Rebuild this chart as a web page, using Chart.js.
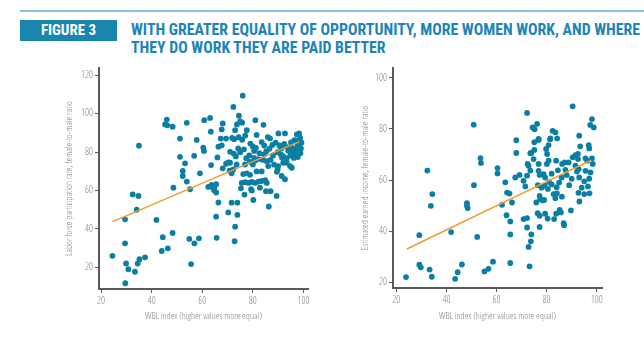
<!DOCTYPE html>
<html>
<head>
<meta charset="utf-8">
<script src="https://cdn.jsdelivr.net/npm/chart.js@4.4.1/dist/chart.umd.min.js"></script>
<style>
  html, body { margin: 0; padding: 0; background: #ffffff; }
  body { width: 644px; height: 340px; position: relative; overflow: hidden;
         font-family: "Roboto Condensed", "DejaVu Sans Condensed", sans-serif; }
  .rule { position: absolute; left: 20px; right: 0; top: 10px; height: 2px; background: #8fc3db; }
  .fig { position: absolute; left: 20px; top: 20px; width: 97px; height: 21px; background: #1a86ad;
         color: #fff; font-weight: bold; font-size: 15px; line-height: 21px; text-align: center; }
  .title { position: absolute; left: 131px; top: 21px; color: #1d84b6; font-weight: bold;
           font-size: 15.8px; line-height: 17.5px; white-space: nowrap; }
  .panel { position: absolute; top: 60px; height: 280px; }
</style>
</head>
<body>
<div class="rule"></div>
<div class="fig">FIGURE 3</div>
<div class="title">WITH GREATER EQUALITY OF OPPORTUNITY, MORE WOMEN WORK, AND WHERE<br>THEY DO WORK THEY ARE PAID BETTER</div>
<div class="panel" style="left:0; width:320px;"><canvas id="labor"></canvas></div>
<div class="panel" style="left:320px; width:324px;"><canvas id="income"></canvas></div>
<script>
// Country observations: [WBL index, female-to-male labor force participation ratio]
const laborPoints = [
  [24.5,26],[29.5,45],[29.5,32.5],[29.9,22],[30.8,19],[29.6,11.7],[32.5,58],[34.8,57.2],[34.1,50],[33.4,17.7],
  [34.5,22],[35.2,24.2],[37.4,25.2],[35,83.4],[41.9,44.7],[44.4,35.7],[44,28.5],[46.4,29.9],[48.3,37.9],[54.9,34.8],
  [55.6,21.7],[56.9,32.5],[58.7,35.1],
  [46,97],[45.3,94.5],[46.2,94],[48.3,93.3],[53.9,95.3],[51.2,87.1],[51.2,77.6],[53.2,74.2],[52.3,70.2],[52.3,67.6],
  [53.9,64.7],[48.6,61.5],[55.2,60.7],[56.8,78.1],[57.8,86.4],[59.1,69],[60.8,96.7],[63.1,97.9],[63.4,90.7],[60.4,82.4],
  [60.7,80.7],[63.5,73.3],[66,77.3],[68.1,71.6],[70.3,74.7],
  [62.4,61.9],[63.7,62.9],[64.8,61.9],[65.5,63.3],[64.7,60.2],[65.5,59],[64.4,61.2],[66.4,53.8],[65.5,46.4],[65.7,35.4],
  [66.4,82.9],[67.7,83.6],[68.1,95],[67.7,91.9],[67.3,87.1],[69.4,87.1],[71,80.2],
  [70.3,48.6],[71.6,53.7],[73.9,53.7],[73.9,47.3],[73,41.2],[72.8,33.6],[76.7,57.9],[80.2,55.1],[79.6,60],[85.2,59.7],
  [87,59.7],[86.3,51.7],[89.4,57.2],
  [72.3,103.6],[76,109.5],[74.5,99],[75,96],[75.8,95.4],[73.7,94.5],[81,96.7],[84.2,94.3],[73,91.5],[77.6,91.5],
  [90.1,89.8],[92.7,89.8],[97.4,89.3],[98.3,89.8],[81.5,89],[83.5,85.3],[85.9,87.9],[86.8,87.2],
  [71.8,87.4],[72.6,86.8],[74.4,87.8],[75.8,86.5],[77,88.7],
  [75,80],[74.2,82],[76.5,81.5],[72.5,79.2],[73.3,77.8],[71,74.5],[72.3,71],[71.6,69],[70.8,70.4],
  [79,84.5],[80,83],[81.2,82.3],[80.5,80.7],[78.6,78.3],[82.6,79.5],[84.4,78.8],
  [75.6,64],[77,64.4],[78.3,64],[79.6,64.5],[80.9,64],[82.2,64.7],[83.5,65],[84.9,65.5],[85.5,64],
  [76.2,68.6],[77.6,69],[78.9,68.2],[81.5,70],[83.5,70],[86.1,72.8],[85.5,75.3],
  [75.3,61.2],[79.3,60.7],[82.8,61.5],[73.6,73.6],[76.9,73.6],[80,73.6],[80.8,75.5],
  [90,72.8],[92,74.5],[93.4,74.5],[94.7,72.8],[95.4,71.9],[91.4,67.6],[92.7,65.9],
  [89,85],[90.5,83.5],[91.2,82],[92.4,84.3],[93.4,82.7],[89.8,80],[91,79],[92,78],
  [95.4,82.3],[96.5,81],[97.4,80.5],[96.8,79],[95.5,79.5],[97.5,83],[98.5,84],[99,82],[98.8,79.5],[97.8,77.5],
  [96.2,77],[94.8,78.3],[94,80.8],[95.1,85.1],[96.4,86.3],[97.8,86],[98.7,87.5],[99.2,85],
  [93.4,76.8],[91.5,77.2],[88,78.3],[87,76],[88.4,73.5],[89.8,71],[89.5,69.8],
  [80.5,77],[82.3,76.4],[84,76],[85.3,80.5],[86.6,81.8],[87.7,83.8],[84.5,83.5],
  [77.4,76.9],[78.8,75],[69.4,74]
];

// Country observations: [WBL index, female-to-male estimated earned income ratio]
const incomePoints = [
  [23.9,22],[29.2,38.4],[29.2,26.8],[29.8,25.8],[33.3,24.9],[34.2,22.1],[34.4,54.5],[32.4,63.7],[33.8,49.9],[43.5,21.3],
  [44.5,23.9],[46.2,26.9],[41.9,39.6],[48.2,50.9],[48.2,49.9],[48.5,49],[50.9,81.7],[53.6,68.6],[53.8,66.7],[51,58],
  [52.3,37.7],[55.2,24.2],[56.8,25.2],[58.6,28],
  [60.4,64.7],[60.4,62.6],[63.5,59.1],[62.2,50.3],[64,46.2],[64.2,55.1],[65.2,54.7],[66.2,51.2],[65.5,43.8],[65.5,38.7],
  [65.5,27.5],
  [67.9,75.6],[67.9,70.6],[67.5,61],[69.2,62],[70.8,59.7],[72.2,61.7],[72.8,65.6],[73.5,63.7],[72.2,86.3],[72.4,66.3],
  [74.4,80.6],[75.2,79.9],[76.2,82],[75.1,74.8],[76.8,75.7],[73.5,70.5],[75.1,71.8],[74.8,68.2],[73.9,70.6],
  [70.8,44.7],[72.2,45.1],[72.2,41.4],[73.9,38.7],[73.7,36],[72.8,33.8],[73.2,26.2],[75.9,51.2],[77.2,53.8],[77.4,52.5],
  [78.4,52],[79,52.2],[76.4,47],[77.2,46],[77.2,41.6],[79.4,46.8],[80.4,44.9],[82.8,54.5],[84.1,54.8],[83.5,52.9],
  [83,44.7],[83.8,46.8],[85.2,48.3],[85.7,47.3],[86.1,53.5],[86.8,43.1],[87,42.3],[89.7,48.1],[92.7,55],[93.1,51.6],
  [95,54.5],[97.1,54.8],
  [71.5,57.5],[76.5,58],[78,57],[79.2,57.8],[80.5,56.5],[82,58.3],[84,57.2],[81,59.2],
  [76.8,66.3],[76.8,63.6],[77.2,62],[78.8,62.3],[79.4,61],
  [79.8,72.2],[80.2,70.2],[80.8,73.7],[81.4,76],[82.4,79.3],[83.5,78.7],[84.2,76.3],[81.5,76.3],[76.8,76.1],[80.8,67.6],
  [80.1,66.3],
  [83.8,67.6],[86.2,66.3],[87.2,66.9],[88.8,66.9],[90.4,68.9],[91.5,69.8],[92.5,70.2],[92.5,68.2],[95.5,68.5],[96.2,67.6],
  [98.1,68.5],[98.4,66.3],[91.5,65.6],[92.8,64.3],[92.1,63.3],[95.5,63.6],[97.5,63],
  [90.4,88.9],[98.1,83.9],[97.4,81.6],[98.8,80.6],[93,77.4],[96.8,73.7],[97,72.4],[93.4,73.2],
  [86,61],[88,62],[90,60.5],[93,61],[95,59.5],[97,60.5],[85,59],[89,58],[94,57],[96.5,57.5],
  [82,62.5],[84.5,63.8],[87.5,64]
];

// Fitted linear trends (start and end of each line)
const laborTrendX = [24.6, 98.4];
const laborTrendY = [43.8, 85.5];
const incomeTrendX = [24.2, 97.8];
const incomeTrendY = [33.0, 67.8];

// Axis tick values
const wblTicks = [20, 40, 60, 80, 100];
const laborTicks = [20, 40, 60, 80, 100, 120];
const incomeTicks = [20, 40, 60, 80, 100];

const xTitle = 'WBL index (higher values more equal)';
const laborTitle = 'Labor force participation rate, female-to-male ratio';
const incomeTitle = 'Estimated earned income, female-to-male ratio';

const FONT = '"Open Sans Condensed Light", "Roboto Condensed", sans-serif';
const DOT = '#0b7fa3';
const TREND = '#f59a2c';
const AXIS = '#5a5a5a';
const TEXT = '#858585';

function toXY(pairs) { return pairs.map(p => ({ x: p[0], y: p[1] })); }
function trendXY(xs, ys) { return xs.map((x, i) => ({ x: x, y: ys[i] })); }
function fixedTicks(values) {
  return function (scale) { scale.ticks = values.map(v => ({ value: v })); };
}

function makeChart(id, points, tx, ty, cfg) {
  return new Chart(document.getElementById(id), {
    type: 'scatter',
    data: {
      datasets: [
        { type: 'line', data: trendXY(tx, ty), borderColor: TREND, borderWidth: 1.5,
          pointRadius: 0, fill: false, order: 0 },
        { data: toXY(points), backgroundColor: DOT, borderWidth: 0, pointRadius: 2.9,
          pointHoverRadius: 2.9, order: 1 }
      ]
    },
    options: {
      responsive: true,
      maintainAspectRatio: false,
      animation: false,
      events: [],
      layout: { padding: { top: cfg.padTop, right: cfg.padRight, bottom: 0, left: 0 } },
      plugins: { legend: { display: false }, tooltip: { enabled: false } },
      scales: {
        x: {
          type: 'linear', min: cfg.xMin, max: cfg.xMax,
          afterBuildTicks: fixedTicks(wblTicks),
          afterFit: s => { s.height = cfg.xHeight; },
          border: { display: true, color: AXIS, width: 2 },
          grid: { drawOnChartArea: false, drawTicks: true, tickLength: 4, color: AXIS, lineWidth: 1 },
          ticks: { color: TEXT, padding: 2, font: { family: FONT, size: 10 }, maxRotation: 0 },
          title: { display: true, text: xTitle, color: TEXT, font: { family: FONT, size: 9.5 },
                   padding: { top: 0, bottom: 18 } }
        },
        y: {
          type: 'linear', min: cfg.yMin, max: cfg.yMax,
          afterBuildTicks: fixedTicks(cfg.yTicks),
          afterFit: s => { s.width = cfg.yWidth; },
          border: { display: true, color: AXIS, width: 2 },
          grid: { drawOnChartArea: false, drawTicks: true, tickLength: 4, color: AXIS, lineWidth: 1 },
          ticks: { color: TEXT, padding: 2, font: { family: FONT, size: 10 } },
          title: { display: true, text: cfg.yTitle, color: TEXT, font: { family: FONT, size: 9.5 },
                   padding: { top: cfg.yTitlePad, bottom: 0 } }
        }
      }
    }
  });
}

makeChart('labor', laborPoints, laborTrendX, laborTrendY, {
  padTop: 6, padRight: 12, xHeight: 51, yWidth: 99,
  xMin: 19.2, xMax: 101.8, yMin: 8.7, yMax: 123.9,
  yTicks: laborTicks, yTitle: laborTitle, yTitlePad: 64
});

makeChart('income', incomePoints, incomeTrendX, incomeTrendY, {
  padTop: 7, padRight: 42, xHeight: 52, yWidth: 73,
  xMin: 18.7, xMax: 102.1, yMin: 17.7, yMax: 103.9,
  yTicks: incomeTicks, yTitle: incomeTitle, yTitlePad: 40
});
</script>
</body>
</html>
